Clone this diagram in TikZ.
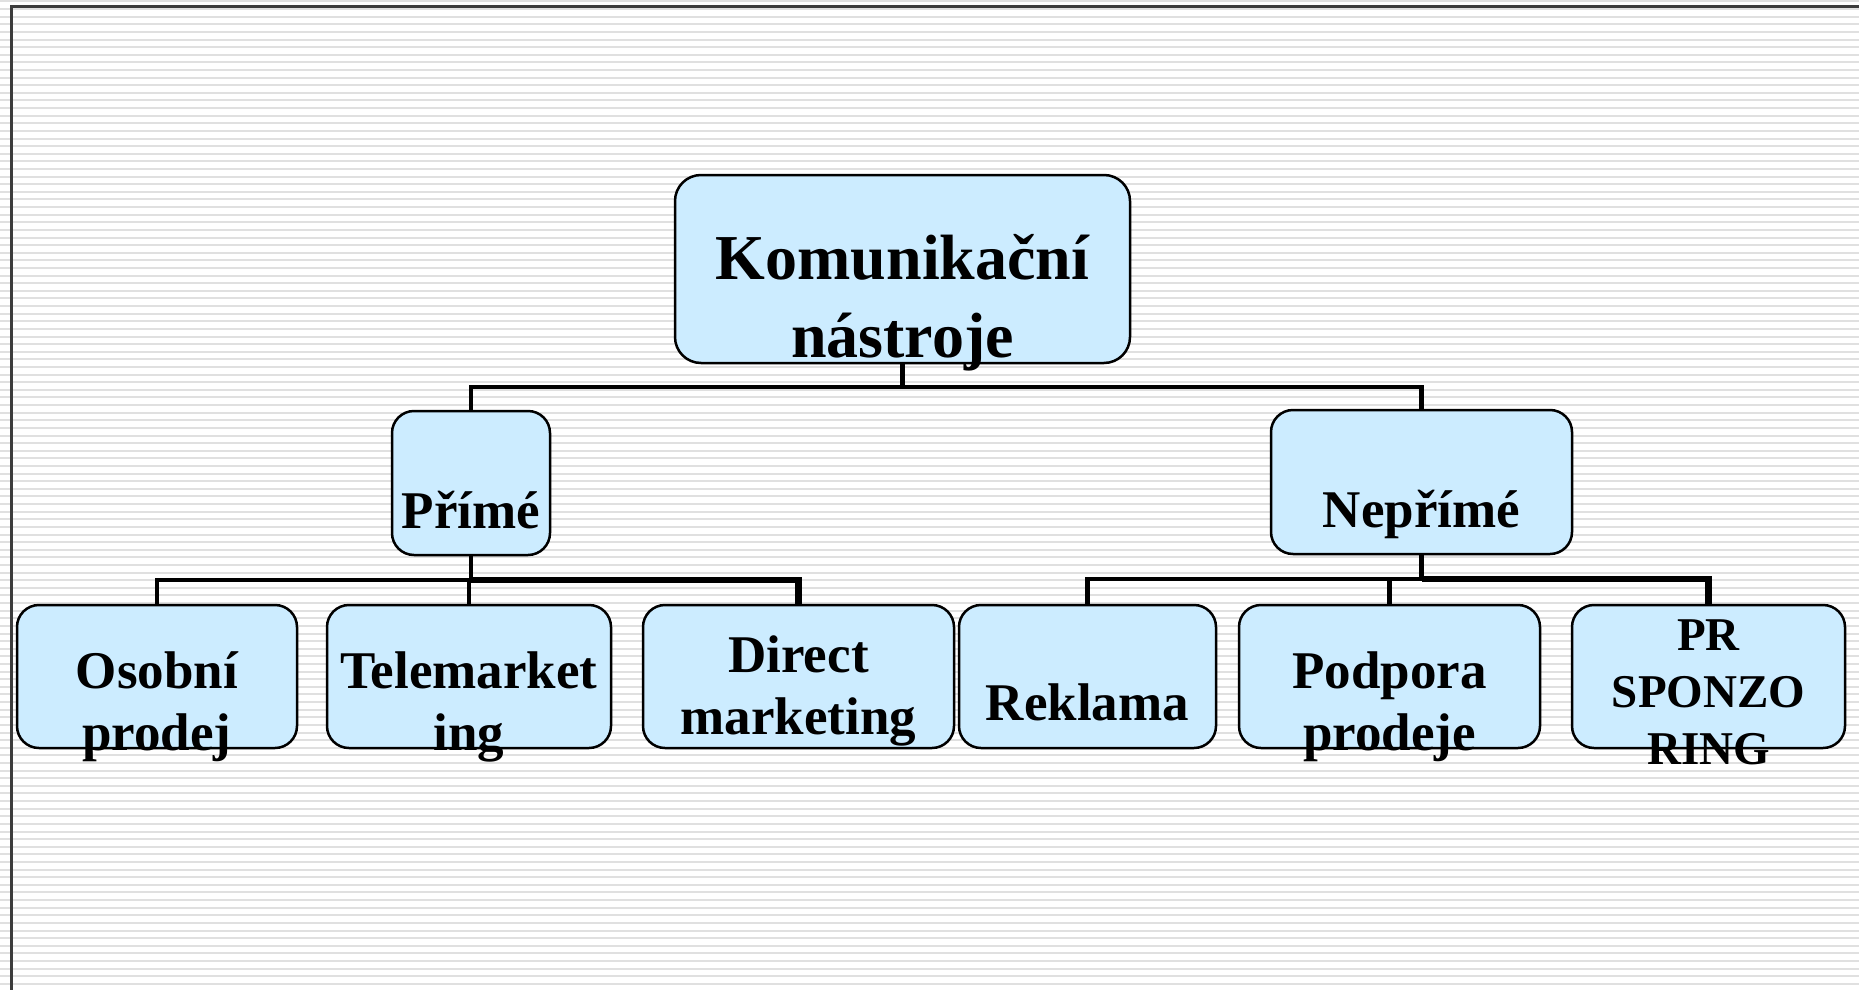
\documentclass[tikz,border=0pt]{standalone}
\usepackage{fontspec}
\setmainfont{Liberation Serif}
\definecolor{boxblue}{RGB}{204,236,255}
\definecolor{bgline}{RGB}{224,224,224}
\definecolor{bordergray}{RGB}{60,60,60}
\pgfdeclarelayer{paper}
\pgfdeclarelayer{wires}
\pgfsetlayers{paper,wires,main}
\begin{document}
\begin{tikzpicture}[x=1pt,y=-1pt,
  box/.style={draw=black, line width=2.5pt, fill=boxblue, rounded corners=22pt, inner sep=0pt},
  lbl/.style={anchor=base, inner sep=0pt},
  big/.style={font=\bfseries\fontsize{64}{78}\selectfont},
  mid/.style={font=\bfseries\fontsize{53}{62}\selectfont},
  small/.style={font=\bfseries\fontsize{47}{57}\selectfont},
  conn/.style={line width=4.5pt},
  connthick/.style={line width=6.5pt}]
\useasboundingbox (0,0) rectangle (1859,990);
\begin{pgfonlayer}{paper}
\fill[white] (0,0) rectangle (1859,990);
\foreach \i in {0,...,129} \draw[line width=2pt, bgline] (0,1.5+7.615*\i) -- (1859,1.5+7.615*\i);
\draw[line width=3pt, bordergray] (1859,7) -- (11,7) -- (11,990);
\end{pgfonlayer}

% boxes
\path (902.5,269) node[box, minimum width=455, minimum height=188, rounded corners=26pt] (root) {};
\path (471,483) node[box, minimum width=158, minimum height=144] (prime) {};
\path (1421.5,482) node[box, minimum width=301, minimum height=144] (neprime) {};
\path (157,676.5) node[box, minimum width=280, minimum height=143] (osobni) {};
\path (469,676.5) node[box, minimum width=284, minimum height=143] (tele) {};
\path (798.5,676.5) node[box, minimum width=311, minimum height=143] (direct) {};
\path (1087.5,676.5) node[box, minimum width=257, minimum height=143] (reklama) {};
\path (1389.5,676.5) node[box, minimum width=301, minimum height=143] (podpora) {};
\path (1708.5,676.5) node[box, minimum width=273, minimum height=143] (pr) {};

% connectors (behind the boxes)
\coordinate (rbus) at (902.5,387);
\coordinate (pbus) at (471,580);
\coordinate (nbus) at (1421.5,579);
\begin{pgfonlayer}{wires}
\draw[conn] (root.south) -- (rbus);
\draw[conn] (prime.north) -- (prime.north |- rbus) -- (rbus);
\draw[conn] (rbus) -- (neprime.north |- rbus) -- (neprime.north);

\draw[conn] (prime.south) -- (pbus);
\draw[conn] (osobni.north) -- (osobni.north |- pbus) -- (pbus);
\draw[conn] (tele.north) -- (tele.north |- pbus);
\draw[connthick] (pbus) -- (direct.north |- pbus) -- (direct.north);

\draw[conn] (neprime.south) -- (nbus);
\draw[conn] (reklama.north) -- (reklama.north |- nbus) -- (nbus);
\draw[conn] (podpora.north) -- (podpora.north |- nbus);
\draw[connthick] (nbus) -- (pr.north |- nbus) -- (pr.north);
\end{pgfonlayer}

% texts
\node[lbl, big] (troot) at (902.5,279) {\begin{tabular}[t]{@{}c@{}}Komunikační\\nástroje\end{tabular}};
\node[lbl, mid] (tprime) at (471,528) {Přímé};
\node[lbl, mid] (tneprime) at (1421.5,527) {Nepřímé};
\node[lbl, mid] (tosobni) at (157,688) {\begin{tabular}[t]{@{}c@{}}Osobní\\prodej\end{tabular}};
\node[lbl, mid] (ttele) at (469,688) {\begin{tabular}[t]{@{}c@{}}Telemarket\\ing\end{tabular}};
\node[lbl, mid] (tdirect) at (798.5,672) {\begin{tabular}[t]{@{}c@{}}Direct\\marketing\end{tabular}};
\node[lbl, mid] (treklama) at (1087.5,720) {Reklama};
\node[lbl, mid] (tpodpora) at (1389.5,688) {\begin{tabular}[t]{@{}c@{}}Podpora\\prodeje\end{tabular}};
\node[lbl, small] (tpr) at (1708.5,650) {\begin{tabular}[t]{@{}c@{}}PR\\SPONZO\\RING\end{tabular}};
\end{tikzpicture}
\end{document}
